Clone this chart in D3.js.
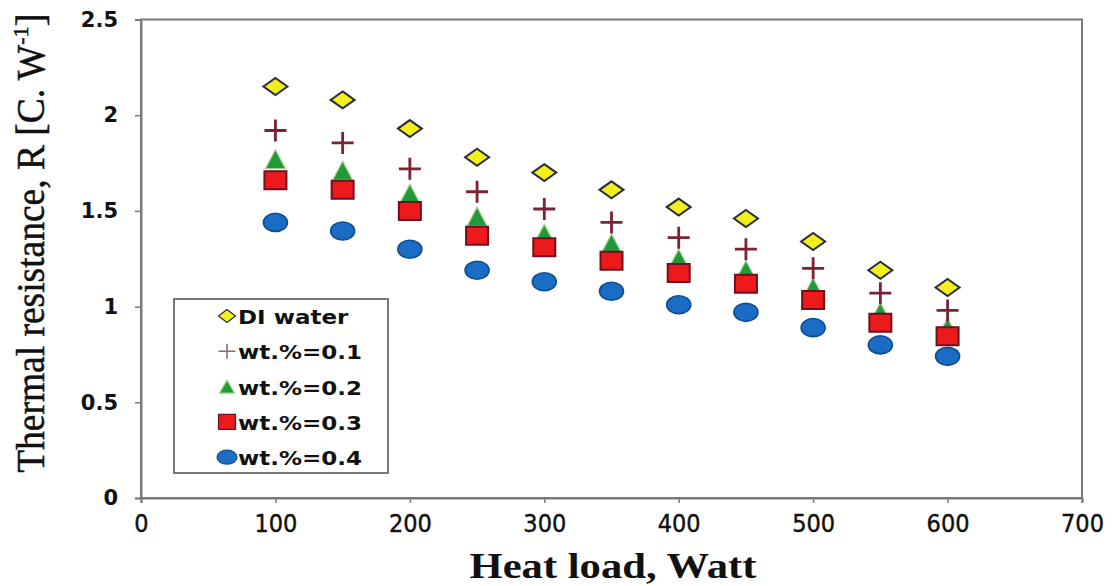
<!DOCTYPE html>
<html>
<head>
<meta charset="utf-8">
<script src="https://cdn.jsdelivr.net/npm/d3@7"></script>
<style>
  body { margin: 0; background: #ffffff; }
</style>
</head>
<body>
<svg id="svg" width="1113" height="586"></svg>
<script>
// Data
const heatLoad = [100, 150, 200, 250, 300, 350, 400, 450, 500, 550, 600];
const diWater = [2.15, 2.08, 1.93, 1.78, 1.70, 1.61, 1.52, 1.46, 1.34, 1.19, 1.10];
const wt01 = [1.92, 1.855, 1.72, 1.60, 1.51, 1.44, 1.36, 1.30, 1.20, 1.07, 0.98];
const wt02 = [1.77, 1.71, 1.59, 1.47, 1.38, 1.33, 1.25, 1.19, 1.10, 0.97, 0.89];
const wt03 = [1.66, 1.61, 1.50, 1.37, 1.31, 1.24, 1.175, 1.12, 1.035, 0.915, 0.845];
const wt04 = [1.44, 1.395, 1.30, 1.19, 1.13, 1.08, 1.01, 0.97, 0.89, 0.80, 0.74];
const seriesNames = ["DI water", "wt.%=0.1", "wt.%=0.2", "wt.%=0.3", "wt.%=0.4"];
const xTicks = [0, 100, 200, 300, 400, 500, 600, 700];
const yTicks = [0, 0.5, 1, 1.5, 2, 2.5];

//Plot box
const LEFT = 141, RIGHT = 1082, TOP = 19.5, BOTTOM = 498;

const svg = d3.select("svg");
const x = d3.scaleLinear().domain([0, 700]).range([LEFT, RIGHT]);
const y = d3.scaleLinear().domain([0, 2.5]).range([BOTTOM, TOP]);

//Marker shapes (w, h are full width/height)
function shape(kind, w, h) {
  const a = w / 2, b = h / 2;
  if (kind == "diamond") return `M0,${-b}L${a},0L0,${b}L${-a},0Z`;
  if (kind == "triangle") return `M0,${-b}L${a},${b}L${-a},${b}Z`;
  if (kind == "square") return `M${-a},${-b}H${a}V${b}H${-a}Z`;
  if (kind == "plus") return `M${-a},0H${a}M0,${-b}V${b}`;
  return "";
}

const styles = {
  diamond: { fill: "#f2ef1e", stroke: "#2a2a40", sw: 2 },
  plus: { fill: "none", stroke: "#7b2233", sw: 2.8 },
  triangle: { fill: "#1f9a36", stroke: "#9fcf8a", sw: 1.2 },
  square: { fill: "#ec1a1a", stroke: "#6e1020", sw: 2 },
  circle: { fill: "#1b6cc4", stroke: "#0f4d92", sw: 1.6 }
};

//Frame
svg.append("rect")
  .attr("x", LEFT).attr("y", TOP)
  .attr("width", RIGHT - LEFT).attr("height", BOTTOM - TOP)
  .attr("fill", "none")
  .attr("stroke", "#7a7a7a")
  .attr("stroke-width", 2);

//Axes
const xAxis = svg.append("g")
  .attr("transform", "translate(0," + BOTTOM + ")")
  .call(d3.axisBottom(x).tickValues(xTicks).tickSize(5).tickPadding(11).tickFormat(d => d));
xAxis.select(".domain").attr("stroke", "#7a7a7a").attr("stroke-width", 2);
xAxis.selectAll(".tick line").attr("stroke", "#7a7a7a").attr("stroke-width", 1.5);
xAxis.selectAll("text")
  .attr("font-family", "'Liberation Sans Narrow', 'DejaVu Sans Condensed', sans-serif")
  .attr("font-size", 25)
  .attr("stroke", "#111").attr("stroke-width", 0.4)
  .attr("fill", "#111");

const yAxis = svg.append("g")
  .attr("transform", "translate(" + LEFT + ",0)")
  .call(d3.axisLeft(y).tickValues(yTicks).tickSize(6).tickPadding(17).tickFormat(d => String(d)));
yAxis.select(".domain").attr("stroke", "#7a7a7a").attr("stroke-width", 2);
yAxis.selectAll(".tick line").attr("stroke", "#7a7a7a").attr("stroke-width", 1.5);
yAxis.selectAll("text")
  .attr("font-family", "'DejaVu Sans', Verdana, sans-serif")
  .attr("font-weight", "bold")
  .attr("font-size", 21)
  .attr("fill", "#111");

//Axis titles
svg.append("text")
  .attr("x", 613).attr("y", 578)
  .attr("text-anchor", "middle")
  .attr("font-family", "'Liberation Serif', 'Times New Roman', serif")
  .attr("font-weight", "bold")
  .attr("font-size", 35)
  .attr("textLength", 287)
  .attr("lengthAdjust", "spacingAndGlyphs")
  .attr("fill", "#111")
  .text("Heat load, Watt");

const yTitle = svg.append("text")
  .attr("transform", "translate(44,243) rotate(-90)")
  .attr("text-anchor", "middle")
  .attr("font-family", "'Liberation Serif', 'Times New Roman', serif")
  .attr("font-size", 40)
  .attr("stroke", "#111").attr("stroke-width", 0.5)
  .attr("fill", "#111");
yTitle.append("tspan").attr("textLength", 428).attr("lengthAdjust", "spacingAndGlyphs").text("Thermal resistance, R [C. W");
yTitle.append("tspan").attr("font-size", 22).attr("dy", -16).text("-1");
yTitle.append("tspan").attr("dy", 16).text("]");

//Points
const rows = heatLoad.map((h, i) => ({ h, di: diWater[i], a: wt01[i], b: wt02[i], c: wt03[i], d: wt04[i] }));

function drawShape(kind, key, w, h) {
  const st = styles[kind];
  svg.append("g").selectAll("path")
    .data(rows)
    .enter().append("path")
    .attr("d", shape(kind, w, h))
    .attr("transform", r => "translate(" + x(r.h) + "," + y(r[key]) + ")")
    .attr("fill", st.fill)
    .attr("stroke", st.stroke)
    .attr("stroke-width", st.sw);
}

drawShape("triangle", "b", 20, 19);
drawShape("square", "c", 22, 18);
drawShape("plus", "a", 22, 22);
drawShape("diamond", "di", 24, 17);

svg.append("g").selectAll("ellipse")
  .data(rows)
  .enter().append("ellipse")
  .attr("cx", r => x(r.h))
  .attr("cy", r => y(r.d))
  .attr("rx", 12).attr("ry", 9)
  .attr("fill", styles.circle.fill)
  .attr("stroke", styles.circle.stroke)
  .attr("stroke-width", styles.circle.sw);

//Legend
svg.append("rect")
  .attr("x", 174).attr("y", 299)
  .attr("width", 214).attr("height", 174)
  .attr("fill", "#ffffff")
  .attr("stroke", "#6a6a6a")
  .attr("stroke-width", 1.8);

const kinds = ["diamond", "plus", "triangle", "square", "circle"];
const legend = svg.append("g").selectAll("g")
  .data(seriesNames)
  .enter().append("g")
  .attr("transform", (d, i) => "translate(227," + (316 + i * 35.3) + ")");

legend.each(function (d, i) {
  const g = d3.select(this);
  const kind = kinds[i];
  const st = styles[kind];
  if (kind == "circle") {
    g.append("ellipse").attr("rx", 10).attr("ry", 7)
      .attr("fill", st.fill).attr("stroke", st.stroke).attr("stroke-width", 1.2);
  } else {
    const sz = { diamond: [17, 13], plus: [17, 15], triangle: [15, 13], square: [17, 15] }[kind];
    g.append("path").attr("d", shape(kind, sz[0], sz[1]))
      .attr("fill", st.fill)
      .attr("stroke", kind == "plus" ? "#8a6c74" : st.stroke)
      .attr("stroke-width", kind == "plus" ? 1.6 : 1.2);
  }
  g.append("text")
    .attr("transform", "translate(11,8) scale(1.15,1)")
    .attr("font-family", "'DejaVu Sans', Verdana, sans-serif")
    .attr("font-weight", "bold")
    .attr("font-size", 20)
    .attr("fill", "#111")
    .text(d);
});
</script>
</body>
</html>
